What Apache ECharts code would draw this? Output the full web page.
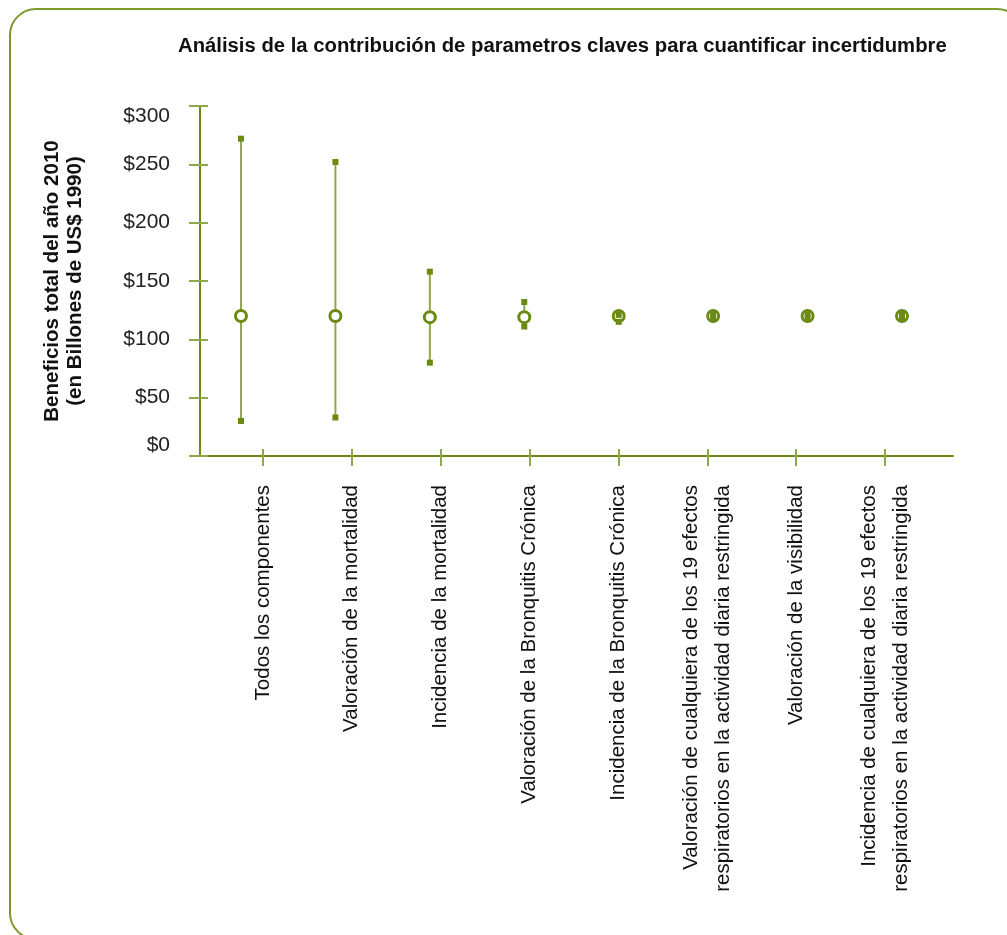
<!DOCTYPE html>
<html>
<head>
    <meta charset="utf-8">
    <title>Análisis de la contribución de parametros claves</title>
    <script src="https://cdn.jsdelivr.net/npm/echarts@6/dist/echarts.min.js"></script>
    <style>
        html, body { margin: 0; padding: 0; background: #fff; }
    </style>
</head>
<body>
    <div id="main" style="width:1007px;height:935px;"></div>
    <script type="text/javascript">
        // categories along the x axis
        var categories = [
            'Todos los componentes',
            'Valoración de la mortalidad',
            'Incidencia de la mortalidad',
            'Valoración de la Bronquitis Crónica',
            'Incidencia de la Bronquitis Crónica',
            'Valoración de cualquiera de los 19 efectos\nrespiratorios en la actividad diaria restringida',
            'Valoración de la visibilidad',
            'Incidencia de cualquiera de los 19 efectos\nrespiratorios en la actividad diaria restringida'
        ];
        // central estimate, upper and lower bounds (billions of 1990 US$)
        var centers = [120, 120, 119, 119, 120, 120, 120, 120];
        var highs = [272, 252, 158, 132, 121, 122, 122, 121];
        var lows = [30, 33, 80, 111, 115, 118, 118, 119];
        var yTicks = [0, 50, 100, 150, 200, 250, 300];

        var green = '#6b8a12';
        var lineGreen = '#8fa84a';
        var font = '"Liberation Sans", sans-serif';

        var rangeData = [], centerData = [], highData = [], lowData = [];
        for (var i = 0; i < categories.length; i++) {
            rangeData.push([i, lows[i], highs[i]]);
            centerData.push([i, centers[i]]);
            highData.push([i, highs[i]]);
            lowData.push([i, lows[i]]);
        }

        var myChart = echarts.init(document.getElementById('main'), null, { renderer: 'canvas' });

        var option = {
            animation: false,
            backgroundColor: '#fff',
            title: {
                text: 'Análisis de la contribución de parametros claves para cuantificar incertidumbre',
                left: 178,
                top: 36,
                padding: 0,
                textStyle: {
                    fontFamily: font,
                    fontWeight: 'bold',
                    fontSize: 20.3,
                    color: '#111'
                }
            },
            graphic: [{
                type: 'rect',
                silent: true,
                shape: { x: 10, y: 9, width: 1013, height: 930, r: 26 },
                style: { fill: 'none', stroke: '#7a9a2a', lineWidth: 2 }
            }],
            grid: [
                { left: 200, right: 54, top: 106, bottom: 479 },
                { left: 218.5, right: 77.5, top: 106, bottom: 479 }
            ],
            xAxis: [
                {
                    gridIndex: 0,
                    type: 'value',
                    min: -0.434,
                    max: 7.54,
                    axisLine: { show: true, onZero: false, lineStyle: { color: green, width: 2 } },
                    axisTick: { show: false },
                    axisLabel: { show: false },
                    splitLine: { show: false }
                },
                {
                    gridIndex: 1,
                    type: 'category',
                    data: categories,
                    position: 'bottom',
                    offset: -7,
                    axisLine: { show: false, onZero: false },
                    axisTick: {
                        show: true,
                        alignWithLabel: true,
                        length: 17,
                        lineStyle: { color: lineGreen, width: 2 }
                    },
                    axisLabel: {
                        rotate: 90,
                        margin: 36,
                        interval: 0,
                        fontFamily: font,
                        fontSize: 20.5,
                        lineHeight: 32,
                        color: '#111'
                    }
                }
            ],
            yAxis: [
                {
                    gridIndex: 0,
                    type: 'value',
                    min: 0,
                    max: 300,
                    interval: 50,
                    name: 'Beneficios total del año 2010\n(en Billones de US$ 1990)',
                    nameLocation: 'middle',
                    nameGap: 113,
                    nameMoveOverlap: false,
                    nameTextStyle: {
                        fontFamily: font,
                        fontWeight: 'bold',
                        fontSize: 20.5,
                        lineHeight: 23,
                        color: '#111'
                    },
                    axisLine: { show: true, onZero: false, lineStyle: { color: green, width: 2 } },
                    axisTick: { show: false },
                    splitLine: { show: false },
                    axisLabel: {
                        margin: 30,
                        fontFamily: font,
                        fontSize: 21,
                        color: '#222',
                        verticalAlignMaxLabel: 'top',
                        verticalAlignMinLabel: 'bottom',
                        formatter: function (v) { return '$' + v; }
                    }
                },
                {
                    gridIndex: 0,
                    type: 'value',
                    position: 'left',
                    offset: -8,
                    min: 0,
                    max: 300,
                    interval: 50,
                    axisLine: { show: false, onZero: false },
                    axisTick: { show: true, length: 19, lineStyle: { color: lineGreen, width: 2 } },
                    axisLabel: { show: false },
                    splitLine: { show: false }
                },
                {
                    gridIndex: 1,
                    type: 'value',
                    min: 0,
                    max: 300,
                    show: false
                }
            ],
            series: [
                {
                    name: 'Rango',
                    type: 'custom',
                    xAxisIndex: 0,
                    yAxisIndex: 0,
                    z: 2,
                    data: rangeData,
                    renderItem: function (params, api) {
                        var top = api.coord([api.value(0), api.value(2)]);
                        var bottom = api.coord([api.value(0), api.value(1)]);
                        return {
                            type: 'line',
                            shape: { x1: top[0], y1: top[1], x2: bottom[0], y2: bottom[1] },
                            style: { stroke: lineGreen, lineWidth: 2 }
                        };
                    }
                },
                {
                    name: 'Estimación central',
                    type: 'scatter',
                    xAxisIndex: 0,
                    yAxisIndex: 0,
                    z: 3,
                    symbol: 'circle',
                    symbolSize: 11,
                    data: centerData,
                    itemStyle: { color: '#fff', borderColor: green, borderWidth: 3, opacity: 1 }
                },
                {
                    name: 'Alto',
                    type: 'scatter',
                    xAxisIndex: 0,
                    yAxisIndex: 0,
                    z: 4,
                    symbol: 'rect',
                    symbolSize: 6,
                    data: highData,
                    itemStyle: { color: green, opacity: 1 }
                },
                {
                    name: 'Bajo',
                    type: 'scatter',
                    xAxisIndex: 0,
                    yAxisIndex: 0,
                    z: 4,
                    symbol: 'rect',
                    symbolSize: 6,
                    data: lowData,
                    itemStyle: { color: green, opacity: 1 }
                }
            ]
        };

        myChart.setOption(option);
    </script>
</body>
</html>
